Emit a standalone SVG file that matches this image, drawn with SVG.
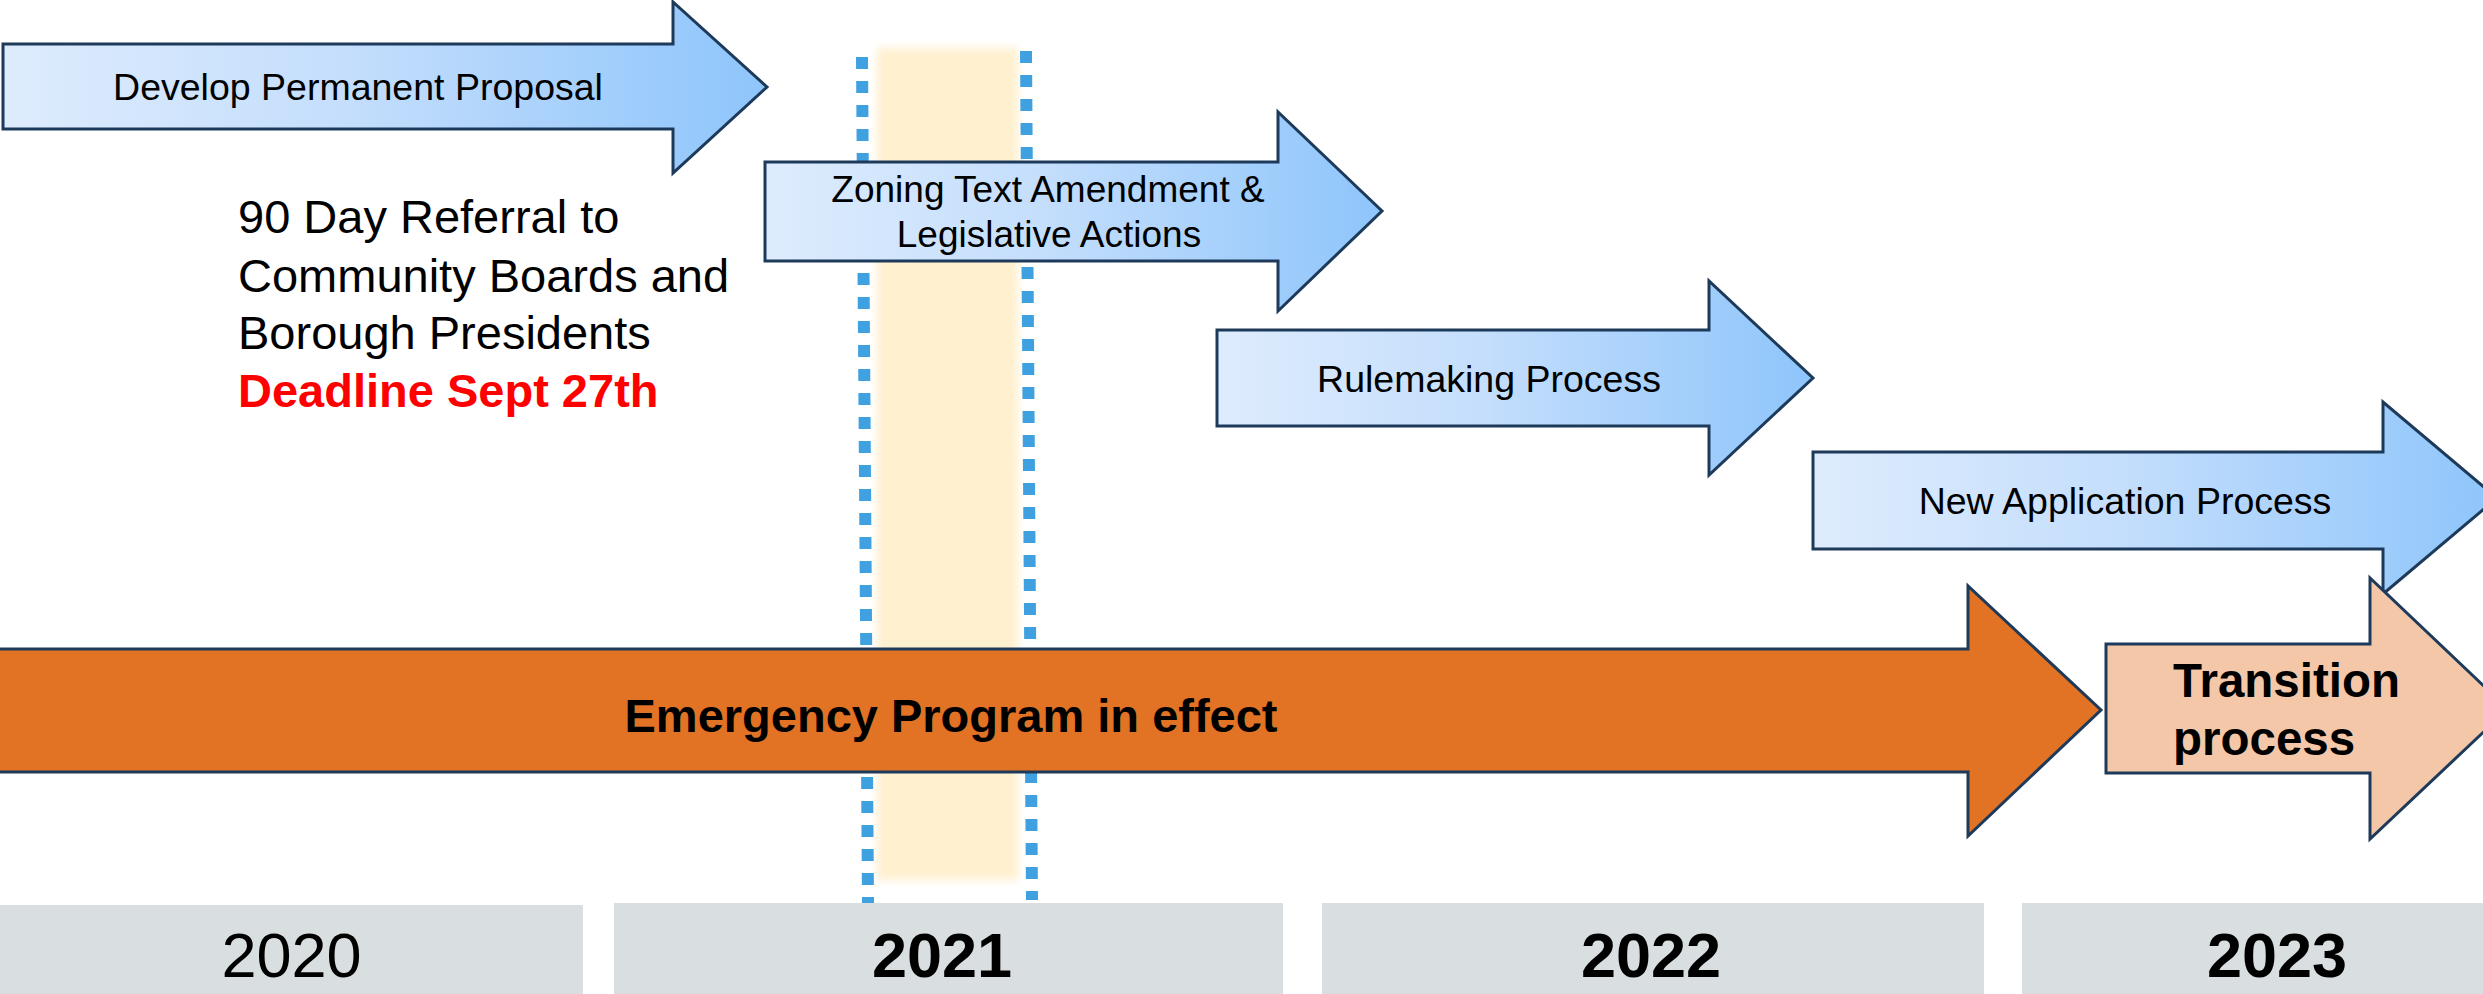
<svg xmlns="http://www.w3.org/2000/svg" width="2483" height="994" viewBox="0 0 2483 994">
<style>
.lbl{font-family:"Liberation Sans",Arial,sans-serif;fill:#000;}
.blue{stroke:#1E3A5A;stroke-width:3;stroke-linejoin:miter;}
.bar{fill:#D9DEE0;}
.yr{font-family:"Liberation Sans",Arial,sans-serif;font-size:63px;text-anchor:middle;fill:#000;}
.dots{stroke:#40A1E0;stroke-width:12;stroke-dasharray:12 12;fill:none;}
</style>
<defs>
<linearGradient id="bg" x1="0" y1="0" x2="1" y2="0">
<stop offset="0" stop-color="#DEECFD"/>
<stop offset="0.45" stop-color="#C4DEFC"/>
<stop offset="1" stop-color="#8EC5FB"/>
</linearGradient>
<filter id="soft" x="-10%" y="-5%" width="120%" height="110%">
<feGaussianBlur stdDeviation="4"/>
</filter>
</defs>
<rect width="2483" height="994" fill="#FFFFFF"/>
<g id="band">
<rect x="877" y="48" width="141" height="832" fill="#FFF0CF" filter="url(#soft)"/>
<line class="dots" x1="862" y1="57" x2="868" y2="903"/>
<line class="dots" x1="1026" y1="51" x2="1032" y2="900"/>
</g>
<g id="years">
<rect class="bar" x="0" y="905" width="583" height="89"/>
<rect class="bar" x="614" y="903" width="669" height="91"/>
<rect class="bar" x="1322" y="903" width="662" height="91"/>
<rect class="bar" x="2022" y="903" width="520" height="91"/>
<text class="yr" x="291.5" y="977">2020</text>
<text class="yr" x="942" y="977" font-weight="bold">2021</text>
<text class="yr" x="1651" y="977" font-weight="bold">2022</text>
<text class="yr" x="2277" y="977" font-weight="bold">2023</text>
</g>
<g id="connectors"></g>
<g id="develop">
<polygon class="blue" fill="url(#bg)" points="3,44 673,44 673,2 767,87 673,173 673,129 3,129"/>
<text class="lbl" x="358" y="100" font-size="37.5" text-anchor="middle">Develop Permanent Proposal</text>
</g>
<g id="zoning">
<polygon class="blue" fill="url(#bg)" points="765,162 1278,162 1278,112 1382,211 1278,311 1278,261 765,261"/>
<text class="lbl" x="1048" y="202" font-size="37" text-anchor="middle">Zoning Text Amendment &amp;</text>
<text class="lbl" x="1049" y="247" font-size="37" text-anchor="middle">Legislative Actions</text>
</g>
<g id="rulemaking">
<polygon class="blue" fill="url(#bg)" points="1217,330 1709,330 1709,281 1813,378 1709,475 1709,426 1217,426"/>
<text class="lbl" x="1489" y="392" font-size="37.5" text-anchor="middle">Rulemaking Process</text>
</g>
<g id="newapp">
<polygon class="blue" fill="url(#bg)" points="1813,452 2383,452 2383,402 2497,498 2383,594 2383,549 1813,549"/>
<text class="lbl" x="2125" y="514" font-size="37.5" text-anchor="middle">New Application Process</text>
</g>
<g id="referral">
<text class="lbl" x="238" y="233" font-size="47">90 Day Referral to</text>
<text class="lbl" x="238" y="292" font-size="47">Community Boards and</text>
<text class="lbl" x="238" y="349" font-size="47">Borough Presidents</text>
<text class="lbl" x="238" y="407" font-size="47" font-weight="bold" style="fill:#FF0000">Deadline Sept 27th</text>
</g>
<g id="emergency">
<polygon class="blue" fill="#E27224" points="-5,649 1968,649 1968,586 2101,710 1968,836 1968,772 -5,772"/>
<text class="lbl" x="951" y="732" font-size="47" font-weight="bold" text-anchor="middle">Emergency Program in effect</text>
</g>
<g id="transition">
<polygon class="blue" fill="#F3C7A8" points="2106,644 2370,644 2370,578 2508,709 2370,839 2370,773 2106,773"/>
<text class="lbl" x="2173" y="697" font-size="47.5" font-weight="bold">Transition</text>
<text class="lbl" x="2173" y="755" font-size="47.5" font-weight="bold">process</text>
</g>
</svg>
